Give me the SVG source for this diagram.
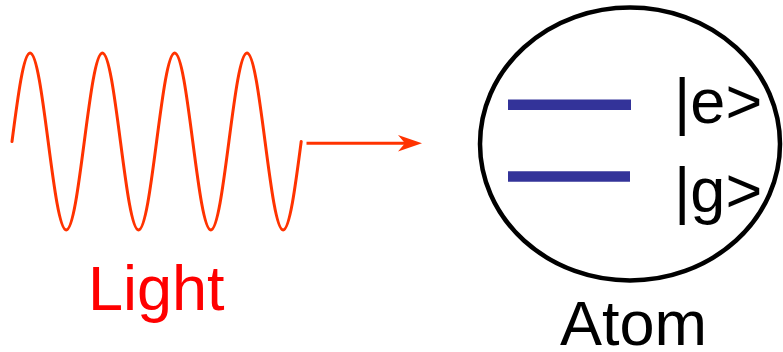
<svg xmlns="http://www.w3.org/2000/svg" width="783" height="352" viewBox="0 0 783 352">
<defs>
<style>
.wave{fill:none;stroke:#ff3300;stroke-width:3;stroke-linecap:round;stroke-linejoin:round}
.lvl{stroke:#333399;stroke-width:10.5}
.lbl{font-family:"Liberation Sans",Arial,sans-serif;font-size:63px}
</style>
</defs>
<g id="light">
<path class="wave" d="M12,141.5 c5.895,-45.34 11.534,-88.5 18.075,-88.5 s12.18,43.16 18.075,88.5 s11.534,88.5 18.075,88.5 s12.18,-43.16 18.075,-88.5 s11.534,-88.5 18.075,-88.5 s12.18,43.16 18.075,88.5 s11.534,88.5 18.075,88.5 s12.18,-43.16 18.075,-88.5 s11.534,-88.5 18.075,-88.5 s12.18,43.16 18.075,88.5 s11.534,88.5 18.075,88.5 s12.18,-43.16 18.075,-88.5 s11.534,-88.5 18.075,-88.5 s12.18,43.16 18.075,88.5 s11.534,88.5 18.075,88.5 s12.18,-43.16 18.075,-88.5"/>
<text class="lbl" x="88" y="310" fill="#ff0000">Light</text>
</g>
<g id="connectors">
<line x1="306.5" y1="143.3" x2="410" y2="143.3" stroke="#ff3300" stroke-width="3"/>
<polygon points="422,143.3 398,135 405,143.3 398,151.5" fill="#ff3300"/>
</g>
<g id="atom">
<ellipse cx="630" cy="144" rx="150" ry="136.5" fill="none" stroke="#000" stroke-width="4.5"/>
<line class="lvl" x1="508" y1="104.8" x2="631" y2="104.8"/>
<line class="lvl" x1="508" y1="176.5" x2="630" y2="176.5"/>
<text class="lbl" x="674" y="123" font-size="66">|e&gt;</text>
<text class="lbl" x="674" y="212" font-size="66">|g&gt;</text>
<text class="lbl" x="560" y="345">Atom</text>
</g>
</svg>
